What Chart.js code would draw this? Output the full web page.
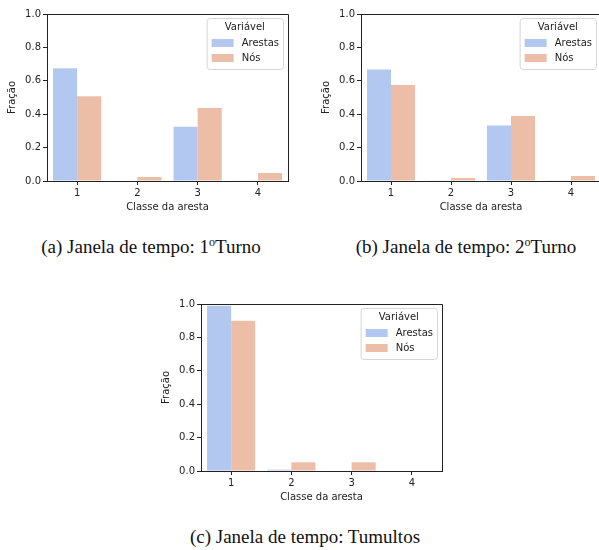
<!DOCTYPE html>
<html>
<head>
<meta charset="utf-8">
<script src="https://cdn.jsdelivr.net/npm/chart.js@4"></script>
<style>
  html, body { margin: 0; padding: 0; background: #fff; overflow: hidden; }
  body { width: 599px; height: 550px; position: relative; }
  .box { position: absolute; width: 300px; height: 220px; }
  .cap { position: absolute; font-family: "Liberation Serif", "DejaVu Serif", serif; font-size: 19px;
         color: #111; white-space: nowrap; transform: translate(-50%, -50%); line-height: 22px; }
  .cap sup { font-size: 12px; vertical-align: 7px; line-height: 0; }
</style>
</head>
<body>
<div class="box" style="left:0px;top:0px"><canvas id="c1"></canvas></div>
<div class="box" style="left:314px;top:0px"><canvas id="c2"></canvas></div>
<div class="box" style="left:154px;top:290px"><canvas id="c3"></canvas></div>
<div class="cap" style="left:151px;top:247px">(a) Janela de tempo: 1<sup>o</sup>Turno</div>
<div class="cap" style="left:466px;top:247px">(b) Janela de tempo: 2<sup>o</sup>Turno</div>
<div class="cap" style="left:305px;top:537px">(c) Janela de tempo: Tumultos</div>
<script>
// Categories and values
const categories = ['1', '2', '3', '4'];
const seriesNames = ['Arestas', 'Nós'];
const arestasTurno1 = [0.675, 0.003, 0.325, 0.002];
const nosTurno1 = [0.507, 0.024, 0.437, 0.048];
const arestasTurno2 = [0.667, 0.002, 0.333, 0.002];
const nosTurno2 = [0.575, 0.018, 0.389, 0.030];
const arestasTumultos = [0.990, 0.008, 0, 0];
const nosTumultos = [0.900, 0.052, 0.052, 0];

const colors = ['#b3c8f1', '#ecbea8'];
const ink = '#222';
const font = 'DejaVu Sans';

// Top/right spines and a matplotlib style legend inside the axes
const frameLegend = {
    id: 'frameLegend',
    afterDraw(chart) {
        const ctx = chart.ctx;
        const a = chart.chartArea;
        ctx.save();
        ctx.strokeStyle = ink;
        ctx.lineWidth = 1;
        ctx.beginPath();
        ctx.moveTo(Math.round(a.left), Math.round(a.top) + 0.5);
        ctx.lineTo(Math.round(a.right) + 0.5, Math.round(a.top) + 0.5);
        ctx.lineTo(Math.round(a.right) + 0.5, Math.round(a.bottom));
        ctx.stroke();

        ctx.font = '10px "' + font + '"';
        const labels = chart.data.datasets.map(d => d.label);
        const textW = Math.max(...labels.map(l => ctx.measureText(l).width));
        const w = 5 + 22 + 8 + textW + 4;
        const h = 51;
        const x = a.right - 5 - w;
        const y = a.top + 4;
        ctx.beginPath();
        ctx.roundRect(x + 0.5, y + 0.5, w, h, 3);
        ctx.fillStyle = 'rgba(255,255,255,0.8)';
        ctx.fill();
        ctx.strokeStyle = '#d6d6d6';
        ctx.stroke();

        ctx.fillStyle = ink;
        ctx.textBaseline = 'middle';
        ctx.textAlign = 'center';
        ctx.fillText('Variável', x + w / 2, y + 9);
        ctx.textAlign = 'left';
        chart.data.datasets.forEach((d, i) => {
            const cy = y + 25 + i * 15;
            ctx.fillStyle = d.backgroundColor;
            ctx.fillRect(x + 5, cy - 4, 22, 8);
            ctx.fillStyle = ink;
            ctx.fillText(d.label, x + 35, cy);
        });
        ctx.restore();
    }
};

function makeChart(id, arestas, nos, rightPad) {
    new Chart(document.getElementById(id), {
        type: 'bar',
        data: {
            labels: categories,
            datasets: [
                { label: seriesNames[0], data: arestas, backgroundColor: colors[0] },
                { label: seriesNames[1], data: nos, backgroundColor: colors[1] }
            ]
        },
        options: {
            responsive: true,
            maintainAspectRatio: false,
            animation: false,
            layout: { padding: { left: 0, right: rightPad, top: 14, bottom: 0 } },
            datasets: { bar: { categoryPercentage: 0.8, barPercentage: 1.0 } },
            plugins: { legend: { display: false }, tooltip: { enabled: false } },
            scales: {
                x: {
                    grid: { offset: false, drawOnChartArea: false, drawTicks: true, tickLength: 4, color: ink },
                    border: { color: ink, width: 1 },
                    ticks: { color: ink, padding: 2, font: { family: font, size: 10 } },
                    title: { display: true, text: 'Classe da aresta', color: ink,
                             font: { family: font, size: 10 }, padding: { top: 0, bottom: 7 } },
                    afterFit: s => { s.height = 39; }
                },
                y: {
                    min: 0,
                    max: 1,
                    ticks: { stepSize: 0.2, color: ink, padding: 2, font: { family: font, size: 10 },
                             callback: v => v.toFixed(1) },
                    grid: { drawOnChartArea: false, drawTicks: true, tickLength: 4, color: ink },
                    border: { color: ink, width: 1 },
                    title: { display: true, text: 'Fração', color: ink,
                             font: { family: font, size: 10 }, padding: { top: 6, bottom: 0 } },
                    afterFit: s => { s.width = 47; }
                }
            }
        },
        plugins: [frameLegend]
    });
}

makeChart('c1', arestasTurno1, nosTurno1, 12);
makeChart('c2', arestasTurno2, nosTurno2, 13);
makeChart('c3', arestasTumultos, nosTumultos, 12);
</script>
</body>
</html>
